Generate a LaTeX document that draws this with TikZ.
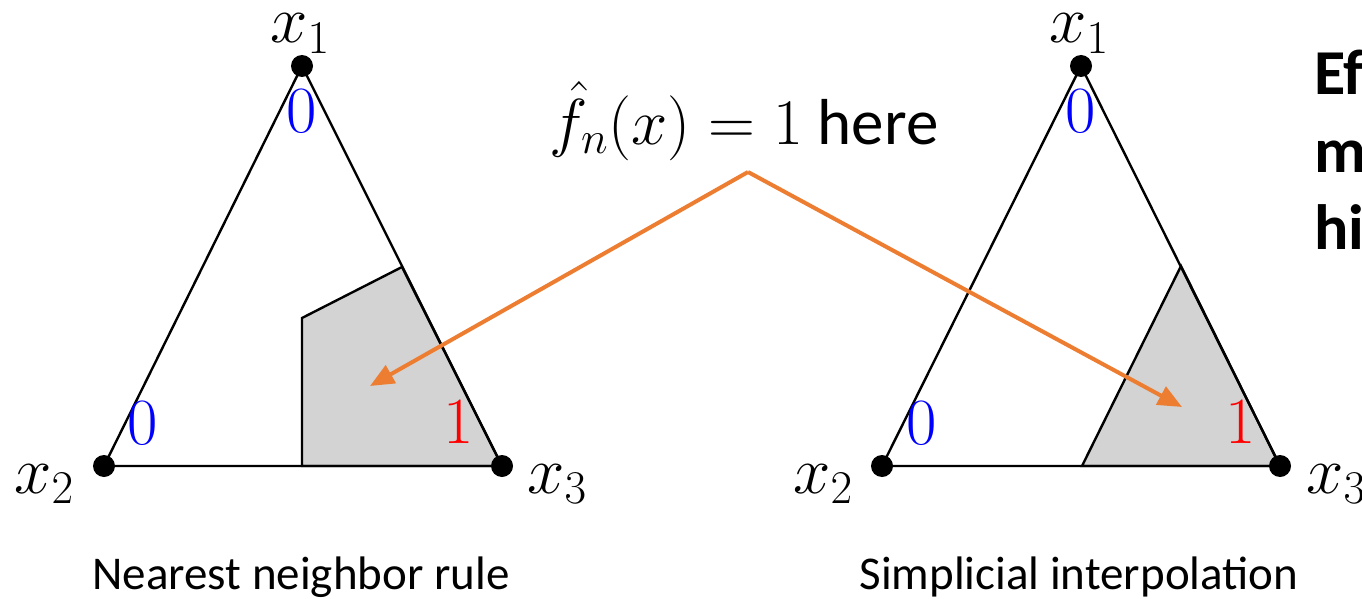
\RequirePackage{fix-cm}
\documentclass[tikz,border=0pt]{standalone}
\usepackage{fontspec}
\setmainfont{Carlito}
\usetikzlibrary{arrows.meta}
\definecolor{arrorange}{HTML}{ED7D31}
\definecolor{shadegray}{HTML}{D3D3D3}
\begin{document}
\begin{tikzpicture}[x=1pt,y=-1pt,
  edge/.style={line width=2.4pt,line join=miter},
  vdot/.style={circle,fill=black,inner sep=0pt,minimum size=22pt},
  region/.style={fill=shadegray,draw=black,line width=2.4pt},
  vlab/.style={font=\fontsize{67}{67}\selectfont,inner sep=0pt,anchor=base},
  zero/.style={font=\fontsize{66}{66}\selectfont,text=blue,inner sep=0pt},
  one/.style={font=\fontsize{66}{66}\selectfont,text=red,inner sep=0pt},
  arr/.style={draw=arrorange,line width=4pt,-{Triangle[length=24pt,width=20pt]}},
  caption/.style={font=\fontsize{47}{47}\selectfont,inner sep=0pt,anchor=base},
  side/.style={font=\fontsize{64}{64}\selectfont\bfseries,inner sep=0pt,anchor=base west}]
\useasboundingbox (0,0) rectangle (1362,599);
\clip (0,0) rectangle (1362,599);
% left triangle
\coordinate (a1) at (302,66);
\coordinate (a2) at (104,466);
\coordinate (a3) at (502,466);
\coordinate (p1) at (302,466);
\coordinate (p2) at (302,318);
\coordinate (p3) at (402,267);
\path[region] (p1) -- (p2) -- (p3) -- (a3) -- cycle;
\draw[edge] (a1) -- (a2) -- (a3) -- cycle;
\node[vdot] (d1) at (a1) {};
\node[vdot] (d2) at (a2) {};
\node[vdot] (d3) at (a3) {};
\node[vlab] (l1) at (300,43) {$x_1$};
\node[vlab] (l2) at (44,493) {$x_2$};
\node[vlab] (l3) at (557,493) {$x_3$};
\node[zero] (z1) at (302,111) {$0$};
\node[zero] (z2) at (143,423) {$0$};
\node[one] (o1) at (459,422) {$1$};
% right triangle
\coordinate (b1) at (1081,66);
\coordinate (b2) at (882,466);
\coordinate (b3) at (1280,466);
\coordinate (q1) at (1082,466);
\coordinate (q2) at (1181,266);
\path[region] (q1) -- (q2) -- (b3) -- cycle;
\draw[edge] (b1) -- (b2) -- (b3) -- cycle;
\node[vdot] (e1) at (b1) {};
\node[vdot] (e2) at (b2) {};
\node[vdot] (e3) at (b3) {};
\node[vlab] (m1) at (1079,43) {$x_1$};
\node[vlab] (m2) at (823,493) {$x_2$};
\node[vlab] (m3) at (1336,493) {$x_3$};
\node[zero] (y1) at (1081,111) {$0$};
\node[zero] (y2) at (922,423) {$0$};
\node[one] (n1) at (1241,422) {$1$};
% label and arrows
\node[font=\fontsize{65}{65}\selectfont,inner sep=0pt,anchor=base] (fx) at (744,144) {$\hat{f}_n(x)=1$ here};
\coordinate (apex) at (748,172);
\coordinate (tL) at (370,386);
\coordinate (tR) at (1182,407);
\draw[arr] (apex) -- (tL);
\draw[arr] (apex) -- (tR);
% captions
\node[caption] (c1) at (301,589) {Nearest neighbor rule};
\node[caption] (c2) at (1079,589) {Simplicial interpolation};
% cut-off side text
\node[side] (s1) at (1314,95) {Ef};
\node[side] (s2) at (1314,172) {m};
\node[side] (s3) at (1314,249) {hi};
\end{tikzpicture}
\end{document}
